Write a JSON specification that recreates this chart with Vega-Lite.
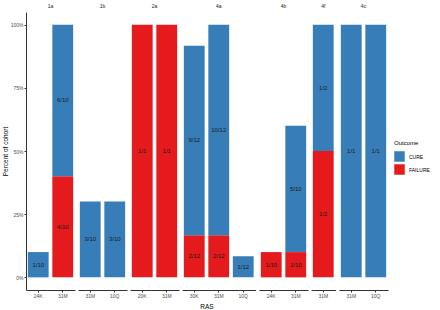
{
  "$schema": "https://vega.github.io/schema/vega-lite/v6.json",
  "background": "white",
  "padding": {"left": 2, "top": 4, "right": 4, "bottom": 0},
  "config": {
    "font": "Liberation Sans",
    "view": {"stroke": null},
    "axis": {"grid": false, "domainColor": "#333", "tickColor": "#333", "labelColor": "#4d4d4d", "labelFontSize": 5, "tickSize": 2, "labelPadding": 1}
  },
  "data": {
    "values": [
      {"panel": "1a", "RAS": "24K", "Outcome": "CURE", "pct": 0.1, "label": "1/10"},
      {"panel": "1a", "RAS": "31M", "Outcome": "FAILURE", "pct": 0.4, "label": "4/10"},
      {"panel": "1a", "RAS": "31M", "Outcome": "CURE", "pct": 0.6, "label": "6/10"},
      {"panel": "1b", "RAS": "31M", "Outcome": "CURE", "pct": 0.3, "label": "3/10"},
      {"panel": "1b", "RAS": "10Q", "Outcome": "CURE", "pct": 0.3, "label": "3/10"},
      {"panel": "2a", "RAS": "20K", "Outcome": "FAILURE", "pct": 1.0, "label": "1/1"},
      {"panel": "2a", "RAS": "31M", "Outcome": "FAILURE", "pct": 1.0, "label": "1/1"},
      {"panel": "4a", "RAS": "30K", "Outcome": "FAILURE", "pct": 0.1667, "label": "2/12"},
      {"panel": "4a", "RAS": "30K", "Outcome": "CURE", "pct": 0.75, "label": "9/12"},
      {"panel": "4a", "RAS": "31M", "Outcome": "FAILURE", "pct": 0.1667, "label": "2/12"},
      {"panel": "4a", "RAS": "31M", "Outcome": "CURE", "pct": 0.8333, "label": "10/12"},
      {"panel": "4a", "RAS": "10Q", "Outcome": "CURE", "pct": 0.0833, "label": "1/12"},
      {"panel": "4b", "RAS": "24K", "Outcome": "FAILURE", "pct": 0.1, "label": "1/10"},
      {"panel": "4b", "RAS": "31M", "Outcome": "FAILURE", "pct": 0.1, "label": "1/10"},
      {"panel": "4b", "RAS": "31M", "Outcome": "CURE", "pct": 0.5, "label": "5/10"},
      {"panel": "4f", "RAS": "31M", "Outcome": "FAILURE", "pct": 0.5, "label": "1/2"},
      {"panel": "4f", "RAS": "31M", "Outcome": "CURE", "pct": 0.5, "label": "1/2"},
      {"panel": "4c", "RAS": "31M", "Outcome": "CURE", "pct": 1.0, "label": "1/1"},
      {"panel": "4c", "RAS": "10Q", "Outcome": "CURE", "pct": 1.0, "label": "1/1"}
    ]
  },
  "transform": [
    {"stack": "pct", "groupby": ["panel", "RAS"], "sort": [{"field": "Outcome", "order": "descending"}], "as": ["y0", "y1"]},
    {"calculate": "(datum.y0 + datum.y1) / 2", "as": "mid"}
  ],
  "facet": {
    "column": {
      "field": "panel", "type": "nominal",
      "sort": ["1a", "1b", "2a", "4a", "4b", "4f", "4c"],
      "header": {
        "title": "RAS", "titleOrient": "bottom", "titleFontSize": 6.5, "titleFontWeight": "normal", "titleColor": "#000", "titlePadding": -4, "titleBaseline": "top",
        "labelOrient": "top", "labelFontSize": 5, "labelColor": "#1a1a1a", "labelPadding": 3
      }
    }
  },
  "spacing": 3,
  "resolve": {"scale": {"x": "independent"}},
  "spec": {
    "width": {"step": 24.5},
    "height": 278,
    "encoding": {
      "x": {
        "field": "RAS", "type": "nominal",
        "sort": ["20K", "24K", "30K", "31M", "10Q"],
        "scale": {"paddingInner": 0.15, "paddingOuter": 0.075},
        "axis": {"title": null, "labelAngle": 0}
      }
    },
    "layer": [
      {
        "mark": {"type": "bar"},
        "encoding": {
          "y": {
            "field": "y1", "type": "quantitative",
            "scale": {"domain": [-0.05, 1.05], "nice": false, "zero": false},
            "axis": {"title": "Percent of cohort", "titleFontSize": 6.5, "titleFontWeight": "normal", "titleColor": "#000", "format": "%", "values": [0, 0.25, 0.5, 0.75, 1], "titlePadding": 2}
          },
          "y2": {"field": "y0"},
          "color": {
            "field": "Outcome", "type": "nominal",
            "scale": {"domain": ["CURE", "FAILURE"], "range": ["#377EB8", "#E41A1C"]},
            "legend": {"title": "Outcome", "titleFontSize": 6, "titleFontWeight": "normal", "labelFontSize": 5, "symbolType": "square", "symbolSize": 110, "symbolStrokeWidth": 0, "orient": "none", "legendX": 368, "legendY": 128}
          }
        }
      },
      {
        "mark": {"type": "text", "fontSize": 6, "color": "#1a1a1a"},
        "encoding": {
          "y": {"field": "mid", "type": "quantitative"},
          "text": {"field": "label", "type": "nominal"}
        }
      }
    ]
  }
}
